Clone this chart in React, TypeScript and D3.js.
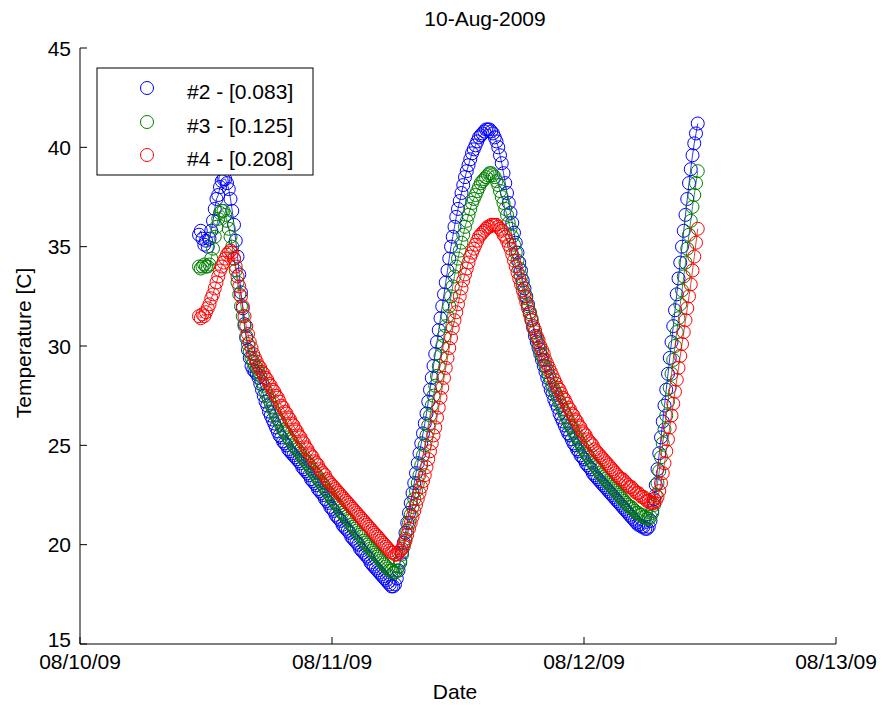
import React from "react";
import * as d3 from "d3";

// Sampling: first reading 10-Aug-2009 11:20, one reading every 10 minutes
const START_TIME = new Date(2009, 7, 10, 11, 20);
const STEP_MINUTES = 10;

// #2 - depth 0.083 m
const T2_BLUE = [
  35.6, 35.8, 35.4, 35.1, 35.3, 35.0, 35.4, 35.8, 36.3, 36.9,
  37.4, 37.6, 38.0, 38.3, 38.4, 38.4, 38.2, 37.9, 37.4, 36.8,
  36.1, 35.3, 34.5, 33.6, 32.7, 31.9, 31.1, 30.4, 29.8, 29.4,
  29.0, 28.8, 28.7, 28.6, 28.4, 28.1, 27.8, 27.5, 27.2, 27.0,
  26.7, 26.5, 26.3, 26.1, 25.9, 25.7, 25.5, 25.4, 25.2, 25.1,
  25.0, 24.8, 24.7, 24.6, 24.5, 24.4, 24.3, 24.2, 24.1, 23.9,
  23.8, 23.7, 23.6, 23.5, 23.3, 23.2, 23.1, 23.0, 22.8, 22.7,
  22.6, 22.5, 22.3, 22.2, 22.1, 21.9, 21.8, 21.7, 21.5, 21.4,
  21.3, 21.2, 21.0, 20.9, 20.8, 20.7, 20.6, 20.4, 20.3, 20.2,
  20.1, 20.0, 19.8, 19.7, 19.6, 19.5, 19.4, 19.3, 19.1, 19.0,
  18.9, 18.8, 18.7, 18.6, 18.5, 18.4, 18.3, 18.2, 18.1, 18.0,
  17.9, 17.9, 18.0, 18.3, 18.7, 19.1, 19.6, 20.1, 20.6, 21.1,
  21.6, 22.1, 22.6, 23.1, 23.6, 24.1, 24.6, 25.1, 25.6, 26.1,
  26.6, 27.2, 27.8, 28.4, 29.0, 29.6, 30.2, 30.8, 31.4, 32.0,
  32.6, 33.2, 33.8, 34.4, 35.0, 35.5, 36.0, 36.5, 36.9, 37.3,
  37.7, 38.1, 38.5, 38.8, 39.1, 39.4, 39.7, 39.9, 40.1, 40.3,
  40.5, 40.6, 40.7, 40.8, 40.9, 40.9, 40.9, 40.8, 40.7, 40.5,
  40.3, 40.0, 39.6, 39.2, 38.7, 38.2, 37.7, 37.2, 36.7, 36.2,
  35.7, 35.2, 34.7, 34.2, 33.8, 33.3, 32.9, 32.5, 32.1, 31.7,
  31.3, 30.9, 30.5, 30.2, 29.9, 29.6, 29.3, 29.0, 28.7, 28.4,
  28.1, 27.8, 27.6, 27.3, 27.1, 26.9, 26.6, 26.4, 26.2, 26.0,
  25.8, 25.6, 25.5, 25.3, 25.1, 25.0, 24.8, 24.7, 24.5, 24.4,
  24.3, 24.1, 24.0, 23.9, 23.8, 23.6, 23.5, 23.4, 23.3, 23.2,
  23.1, 23.0, 22.9, 22.8, 22.7, 22.6, 22.5, 22.4, 22.3, 22.2,
  22.1, 22.0, 21.9, 21.8, 21.7, 21.6, 21.5, 21.4, 21.3, 21.2,
  21.1, 21.0, 21.0, 20.9, 20.9, 20.8, 20.8, 20.9, 21.2, 21.7,
  22.3, 23.0, 23.8, 24.6, 25.4, 26.2, 27.0, 27.8, 28.6, 29.4,
  30.2, 31.0, 31.8, 32.6, 33.4, 34.2, 35.0, 35.8, 36.6, 37.4,
  38.2, 38.9, 39.6, 40.2, 40.7, 41.2,
];

// #3 - depth 0.125 m
const T3_GREEN = [
  34.0, 33.9, 34.0, 34.1, 34.0, 34.0, 34.1, 34.4, 34.9, 35.5,
  36.0, 36.4, 36.7, 36.8, 36.8, 36.6, 36.3, 35.9, 35.5, 35.0,
  34.4, 33.8, 33.2, 32.6, 32.0, 31.5, 31.0, 30.5, 30.1, 29.7,
  29.4, 29.2, 29.0, 28.9, 28.7, 28.5, 28.2, 28.0, 27.7, 27.5,
  27.3, 27.1, 26.9, 26.7, 26.5, 26.3, 26.2, 26.0, 25.8, 25.7,
  25.6, 25.4, 25.3, 25.2, 25.0, 24.9, 24.8, 24.7, 24.6, 24.4,
  24.3, 24.2, 24.1, 24.0, 23.8, 23.7, 23.6, 23.5, 23.3, 23.2,
  23.1, 23.0, 22.8, 22.7, 22.6, 22.5, 22.3, 22.2, 22.1, 22.0,
  21.9, 21.7, 21.6, 21.5, 21.4, 21.3, 21.2, 21.0, 20.9, 20.8,
  20.7, 20.6, 20.5, 20.4, 20.2, 20.1, 20.0, 19.9, 19.8, 19.7,
  19.6, 19.5, 19.4, 19.3, 19.2, 19.1, 19.0, 18.9, 18.8, 18.7,
  18.7, 18.6, 18.6, 18.7, 18.9, 19.2, 19.5, 19.9, 20.3, 20.7,
  21.1, 21.5, 21.9, 22.3, 22.7, 23.1, 23.5, 24.0, 24.5, 25.0,
  25.5, 26.0, 26.5, 27.0, 27.5, 28.0, 28.5, 29.0, 29.5, 30.0,
  30.5, 31.0, 31.5, 32.0, 32.5, 33.0, 33.5, 34.0, 34.4, 34.8,
  35.2, 35.6, 36.0, 36.3, 36.6, 36.9, 37.2, 37.4, 37.6, 37.8,
  38.0, 38.2, 38.3, 38.4, 38.5, 38.6, 38.7, 38.7, 38.6, 38.5,
  38.3, 38.1, 37.8, 37.5, 37.2, 36.9, 36.6, 36.2, 35.9, 35.5,
  35.1, 34.7, 34.3, 33.9, 33.5, 33.1, 32.7, 32.4, 32.0, 31.7,
  31.4, 31.0, 30.7, 30.4, 30.1, 29.8, 29.5, 29.3, 29.0, 28.8,
  28.5, 28.3, 28.0, 27.8, 27.6, 27.4, 27.2, 27.0, 26.8, 26.6,
  26.4, 26.2, 26.0, 25.9, 25.7, 25.5, 25.4, 25.2, 25.1, 24.9,
  24.8, 24.6, 24.5, 24.4, 24.2, 24.1, 24.0, 23.9, 23.8, 23.6,
  23.5, 23.4, 23.3, 23.2, 23.1, 23.0, 22.9, 22.8, 22.7, 22.6,
  22.5, 22.4, 22.3, 22.2, 22.1, 22.0, 21.9, 21.9, 21.8, 21.7,
  21.6, 21.6, 21.5, 21.5, 21.4, 21.4, 21.3, 21.3, 21.4, 21.6,
  22.0, 22.5, 23.1, 23.7, 24.4, 25.1, 25.8, 26.5, 27.2, 27.9,
  28.6, 29.3, 30.0, 30.7, 31.4, 32.1, 32.8, 33.5, 34.2, 34.9,
  35.6, 36.3, 37.0, 37.6, 38.2, 38.8,
];

// #4 - depth 0.208 m
const T4_RED = [
  31.5, 31.4, 31.6, 31.5, 31.7, 31.9, 32.1, 32.4, 32.6, 32.9,
  33.2, 33.5, 33.8, 34.0, 34.2, 34.4, 34.6, 34.7, 34.8, 34.7,
  34.4, 34.0, 33.5, 33.0, 32.5, 32.0, 31.5, 31.0, 30.6, 30.2,
  29.9, 29.6, 29.4, 29.2, 29.0, 28.9, 28.7, 28.6, 28.4, 28.3,
  28.1, 28.0, 27.8, 27.7, 27.5, 27.4, 27.2, 27.0, 26.9, 26.7,
  26.6, 26.4, 26.3, 26.1, 26.0, 25.8, 25.7, 25.5, 25.4, 25.2,
  25.1, 24.9, 24.8, 24.6, 24.5, 24.4, 24.2, 24.1, 24.0, 23.8,
  23.7, 23.6, 23.5, 23.3, 23.2, 23.1, 23.0, 22.9, 22.8, 22.7,
  22.6, 22.5, 22.4, 22.3, 22.2, 22.1, 22.0, 21.9, 21.8, 21.7,
  21.6, 21.5, 21.4, 21.3, 21.2, 21.1, 21.0, 20.9, 20.8, 20.7,
  20.6, 20.5, 20.4, 20.3, 20.2, 20.1, 20.0, 19.9, 19.8, 19.7,
  19.6, 19.6, 19.5, 19.5, 19.6, 19.7, 19.8, 20.0, 20.2, 20.5,
  20.8, 21.1, 21.4, 21.7, 22.0, 22.3, 22.6, 22.9, 23.2, 23.5,
  23.9, 24.3, 24.7, 25.1, 25.5, 25.9, 26.4, 26.9, 27.4, 27.9,
  28.4, 28.9, 29.4, 29.9, 30.4, 30.9, 31.3, 31.7, 32.1, 32.5,
  32.9, 33.3, 33.6, 33.9, 34.2, 34.5, 34.7, 34.9, 35.1, 35.3,
  35.5, 35.6, 35.7, 35.8, 35.9, 36.0, 36.0, 36.1, 36.1, 36.1,
  36.1, 36.0, 35.9, 35.8, 35.6, 35.5, 35.3, 35.1, 34.9, 34.6,
  34.3, 34.0, 33.7, 33.4, 33.1, 32.8, 32.5, 32.2, 31.9, 31.6,
  31.3, 31.0, 30.8, 30.5, 30.3, 30.0, 29.8, 29.6, 29.3, 29.1,
  28.9, 28.7, 28.5, 28.3, 28.1, 27.9, 27.8, 27.6, 27.4, 27.3,
  27.1, 26.9, 26.8, 26.6, 26.5, 26.3, 26.2, 26.0, 25.9, 25.7,
  25.6, 25.5, 25.3, 25.2, 25.1, 25.0, 24.8, 24.7, 24.6, 24.5,
  24.4, 24.3, 24.2, 24.1, 24.0, 23.9, 23.8, 23.7, 23.6, 23.5,
  23.4, 23.3, 23.3, 23.2, 23.1, 23.0, 22.9, 22.9, 22.8, 22.7,
  22.6, 22.6, 22.5, 22.4, 22.4, 22.3, 22.2, 22.2, 22.1, 22.1,
  22.1, 22.2, 22.4, 22.7, 23.1, 23.6, 24.1, 24.7, 25.3, 25.9,
  26.5, 27.1, 27.7, 28.3, 28.9, 29.5, 30.1, 30.7, 31.3, 31.9,
  32.5, 33.1, 33.8, 34.5, 35.2, 35.9,
];

const SERIES_LABELS = ["#2 - [0.083]", "#3 - [0.125]", "#4 - [0.208]"];
const SERIES_COLORS = ["#0000ff", "#008000", "#ff0000"];
const Y_TICKS = [15, 20, 25, 30, 35, 40, 45];
const X_TICKS = [
  new Date(2009, 7, 10),
  new Date(2009, 7, 11),
  new Date(2009, 7, 12),
  new Date(2009, 7, 13),
];
const TITLE = "10-Aug-2009";
const X_LABEL = "Date";
const Y_LABEL = "Temperature [C]";

const W = 883;
const H = 709;
const M = { left: 80, right: 836, top: 48, bottom: 644 };
const FONT = "Arial, 'Liberation Sans', Helvetica, sans-serif";

export default function App() {
  const x = d3
    .scaleTime()
    .domain([X_TICKS[0], X_TICKS[X_TICKS.length - 1]])
    .range([M.left, M.right]);
  const y = d3.scaleLinear().domain([15, 45]).range([M.bottom, M.top]);
  const fmt = d3.timeFormat("%m/%d/%y");

  const series = [T2_BLUE, T3_GREEN, T4_RED].map((vals) =>
    vals.map((v, i) => ({
      t: new Date(START_TIME.getTime() + i * STEP_MINUTES * 60000),
      v,
    }))
  );
  const line = d3
    .line<{ t: Date; v: number }>()
    .x((d) => x(d.t))
    .y((d) => y(d.v));

  const tickLen = 7;
  const legend = { x: 97, y: 68, w: 216, h: 107 };
  const legendRows = [88, 122, 155];

  return (
    <svg
      width={W}
      height={H}
      style={{ position: "absolute", left: 0, top: 0, background: "#fff" }}
      fontFamily={FONT}
    >
      <rect x={0} y={0} width={W} height={H} fill="#fff" />

      {/* data */}
      {series.map((s, si) => (
        <g key={si}>
          <path
            d={line(s) || ""}
            fill="none"
            stroke={SERIES_COLORS[si]}
            strokeWidth={0.8}
          />
          {s.map((d, i) => (
            <circle
              key={i}
              cx={x(d.t)}
              cy={y(d.v)}
              r={6.5}
              fill="none"
              stroke={SERIES_COLORS[si]}
              strokeWidth={1}
            />
          ))}
        </g>
      ))}

      {/* axes */}
      <line x1={M.left} x2={M.left} y1={M.top} y2={M.bottom} stroke="#000" strokeWidth={1} />
      <line x1={M.left} x2={M.right} y1={M.bottom} y2={M.bottom} stroke="#000" strokeWidth={1} />
      {Y_TICKS.map((t) => (
        <g key={t}>
          <line x1={M.left} x2={M.left + tickLen} y1={y(t)} y2={y(t)} stroke="#000" />
          <text
            x={M.left - 9}
            y={y(t) - (t === 15 ? 5 : 0)}
            textAnchor="end"
            dominantBaseline="central"
            fontSize={21}
          >
            {t}
          </text>
        </g>
      ))}
      {X_TICKS.map((t, i) => (
        <g key={i}>
          <line x1={x(t)} x2={x(t)} y1={M.bottom} y2={M.bottom - tickLen} stroke="#000" />
          <text x={x(t)} y={669} textAnchor="middle" fontSize={21}>
            {fmt(t)}
          </text>
        </g>
      ))}

      {/* labels */}
      <text x={485} y={26} textAnchor="middle" fontSize={21}>
        {TITLE}
      </text>
      <text x={455} y={699} textAnchor="middle" fontSize={21}>
        {X_LABEL}
      </text>
      <text
        transform={`translate(31,343) rotate(-90)`}
        textAnchor="middle"
        fontSize={21}
      >
        {Y_LABEL}
      </text>

      {/* legend */}
      <rect
        x={legend.x}
        y={legend.y}
        width={legend.w}
        height={legend.h}
        fill="#fff"
        stroke="#000"
        strokeWidth={1}
      />
      {SERIES_LABELS.map((lab, i) => (
        <g key={lab}>
          <circle
            cx={147}
            cy={legendRows[i]}
            r={6.5}
            fill="none"
            stroke={SERIES_COLORS[i]}
            strokeWidth={1}
          />
          <text x={187} y={legendRows[i] + 3} dominantBaseline="central" fontSize={21}>
            {lab}
          </text>
        </g>
      ))}
    </svg>
  );
}
